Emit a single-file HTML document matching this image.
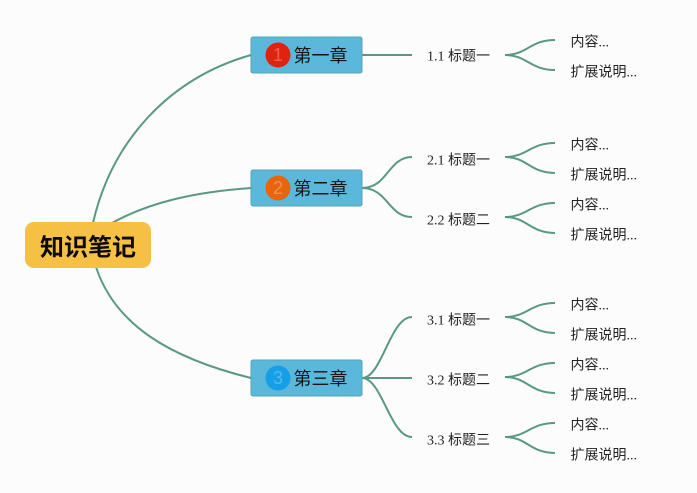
<!DOCTYPE html>
<html>
<head>
<meta charset="utf-8">
<style>
html,body{margin:0;padding:0;background:#fcfcfd;}
svg{display:block;}
.t{font-family:"Liberation Serif","Noto Sans CJK SC",serif;font-size:14px;fill:#222;}
.c{font-family:"Liberation Sans","Noto Sans CJK SC",sans-serif;font-size:18px;fill:#151515;}
.n{font-family:"Liberation Sans","Noto Sans CJK SC",sans-serif;font-size:18px;fill:#fff;fill-opacity:.28;text-anchor:middle;}
.l{fill:none;stroke:#5a9884;stroke-width:2;}
.box{fill:#5cb8da;stroke:#55a3b4;stroke-width:1;}
</style>
</head>
<body>
<svg width="697" height="493" viewBox="0 0 697 493" xmlns="http://www.w3.org/2000/svg">
<rect width="697" height="493" fill="#fcfcfd"/>
<!-- root links -->
<path class="l" d="M93 223C112 140 170 78 251 55"/>
<path class="l" d="M112 223C150 202 195 192 251 188"/>
<path class="l" d="M96 267C115 325 170 358 251 378"/>
<!-- chapter links -->
<path class="l" d="M362 55H412"/>
<path class="l" d="M362 188C388 188 388 157 412 157"/>
<path class="l" d="M362 188C388 188 388 217 412 217"/>
<path class="l" d="M362 378C382 378 390 317 412 317"/>
<path class="l" d="M362 378H412"/>
<path class="l" d="M362 378C382 378 390 437 412 437"/>
<!-- leaf links -->
<path class="l" d="M505 55C527 55 530 40 555 40"/><path class="l" d="M505 55C527 55 530 70 555 70"/>
<path class="l" d="M505 157C527 157 530 143 555 143"/><path class="l" d="M505 157C527 157 530 173 555 173"/>
<path class="l" d="M505 217C527 217 530 203 555 203"/><path class="l" d="M505 217C527 217 530 233 555 233"/>
<path class="l" d="M505 317C527 317 530 303 555 303"/><path class="l" d="M505 317C527 317 530 333 555 333"/>
<path class="l" d="M505 377C527 377 530 363 555 363"/><path class="l" d="M505 377C527 377 530 393 555 393"/>
<path class="l" d="M505 437C527 437 530 423 555 423"/><path class="l" d="M505 437C527 437 530 453 555 453"/>
<!-- root -->
<rect x="25" y="222" width="126" height="46" rx="9" fill="#f5c043"/>
<text x="40" y="255.5" font-family="'Liberation Sans','Noto Sans CJK SC',sans-serif" font-size="24" font-weight="700" fill="#0a0a0a">知识笔记</text>
<!-- chapters -->
<rect class="box" x="251" y="37" width="111" height="36" rx="2"/>
<circle cx="278" cy="55" r="12.5" fill="#e0230e"/>
<text class="n" x="278" y="61">1</text>
<text class="c" x="293.5" y="62">第一章</text>
<rect class="box" x="251" y="170" width="111" height="36" rx="2"/>
<circle cx="278" cy="188" r="12.5" fill="#e8650f"/>
<text class="n" x="278" y="194">2</text>
<text class="c" x="293.5" y="195">第二章</text>
<rect class="box" x="251" y="360" width="111" height="36" rx="2"/>
<circle cx="278" cy="378" r="12.5" fill="#159fe6"/>
<text class="n" x="278" y="384">3</text>
<text class="c" x="293.5" y="385">第三章</text>
<!-- sections -->
<text class="t" x="427" y="60.5">1.1 标题一</text>
<text class="t" x="427" y="164.5">2.1 标题一</text>
<text class="t" x="427" y="224.5">2.2 标题二</text>
<text class="t" x="427" y="324.5">3.1 标题一</text>
<text class="t" x="427" y="384.5">3.2 标题二</text>
<text class="t" x="427" y="444.5">3.3 标题三</text>
<!-- leaves -->
<text class="t" x="570.5" y="46.5">内容...</text><text class="t" x="570.5" y="76.5">扩展说明...</text>
<text class="t" x="570.5" y="149.5">内容...</text><text class="t" x="570.5" y="179.5">扩展说明...</text>
<text class="t" x="570.5" y="209.5">内容...</text><text class="t" x="570.5" y="239.5">扩展说明...</text>
<text class="t" x="570.5" y="309.5">内容...</text><text class="t" x="570.5" y="339.5">扩展说明...</text>
<text class="t" x="570.5" y="369.5">内容...</text><text class="t" x="570.5" y="399.5">扩展说明...</text>
<text class="t" x="570.5" y="429.5">内容...</text><text class="t" x="570.5" y="459.5">扩展说明...</text>
</svg>
</body>
</html>
